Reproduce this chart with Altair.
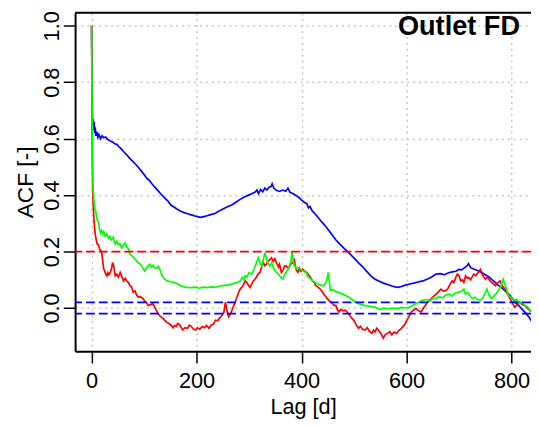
import altair as alt
import pandas as pd

# ---- data (lag in days, ACF) ----
blue_lag = [0, 1, 2, 3, 4, 5, 6, 7, 8, 10, 12, 14, 17, 20, 23, 27, 30, 33, 36, 40, 44, 48, 52, 57, 62, 67, 72, 77, 82, 89, 95, 100, 105, 110, 115, 120, 126, 132, 138, 145, 151, 157, 163, 170, 176, 183, 190, 197, 203, 208, 214, 220, 227, 236, 244, 252, 260, 267, 275, 283, 291, 299, 305, 311, 315, 318, 322, 326, 330, 334, 338, 342, 344, 347, 352, 358, 364, 370, 374, 378, 384, 390, 396, 400, 405, 410, 413, 416, 420, 425, 430, 436, 441, 446, 452, 458, 465, 472, 480, 487, 494, 501, 508, 516, 524, 532, 540, 548, 556, 564, 572, 578, 584, 590, 596, 606, 614, 622, 631, 640, 648, 656, 664, 672, 680, 687, 694, 700, 705, 710, 715, 718, 722, 728, 735, 743, 750, 757, 763, 769, 775, 781, 787, 791, 797, 803, 808, 813, 818, 823, 828, 833, 839]
blue_acf = [1.0, 0.76, 0.64, 0.67, 0.63, 0.66, 0.62, 0.64, 0.61, 0.625, 0.605, 0.615, 0.6, 0.61, 0.603, 0.606, 0.598, 0.595, 0.591, 0.588, 0.582, 0.58, 0.572, 0.563, 0.552, 0.543, 0.532, 0.522, 0.513, 0.499, 0.485, 0.473, 0.46, 0.452, 0.44, 0.429, 0.417, 0.404, 0.392, 0.38, 0.365, 0.358, 0.35, 0.343, 0.338, 0.334, 0.33, 0.326, 0.323, 0.321, 0.324, 0.327, 0.331, 0.336, 0.345, 0.353, 0.36, 0.365, 0.375, 0.385, 0.393, 0.4, 0.405, 0.41, 0.418, 0.405, 0.42, 0.412, 0.425, 0.418, 0.428, 0.43, 0.44, 0.425, 0.417, 0.413, 0.418, 0.414, 0.425, 0.41, 0.405, 0.398, 0.39, 0.382, 0.375, 0.37, 0.355, 0.36, 0.345, 0.335, 0.324, 0.31, 0.3, 0.289, 0.275, 0.26, 0.242, 0.228, 0.213, 0.201, 0.188, 0.175, 0.161, 0.147, 0.13, 0.114, 0.102, 0.095, 0.088, 0.083, 0.078, 0.075, 0.073, 0.076, 0.08, 0.085, 0.088, 0.092, 0.096, 0.103, 0.11, 0.12, 0.122, 0.118, 0.125, 0.128, 0.13, 0.137, 0.135, 0.142, 0.149, 0.157, 0.143, 0.138, 0.133, 0.126, 0.118, 0.11, 0.1, 0.091, 0.08, 0.072, 0.062, 0.056, 0.045, 0.03, 0.018, 0.009, 0.0, -0.01, -0.02, -0.032, -0.049]

green_lag = [0, 1, 2, 3, 4, 5, 6, 7.5, 9, 11, 13, 15, 17, 19, 21, 23, 26, 29, 32, 35, 38, 41, 45, 48, 51, 54, 57, 60, 62, 64, 67, 70, 73, 77, 81, 85, 89, 93, 97, 101, 104, 108, 111, 114, 117, 120, 124, 127, 130, 133, 136, 139, 145, 152, 158, 164, 170, 176, 183, 190, 197, 205, 212, 220, 228, 236, 244, 252, 260, 267, 273, 279, 283, 287, 290, 292.5, 296, 300, 305, 310, 314, 317.6, 321, 324, 327, 330, 333, 336, 339.5, 343, 347, 352, 356, 360, 364.6, 368, 372, 377, 380, 382, 384.5, 386.5, 390, 395, 399, 404, 408.5, 412, 416, 421, 426, 430, 435, 440, 445, 448, 451, 453, 455, 460, 465, 471, 477, 483, 490, 496, 502, 508.6, 515, 522, 530, 540, 549, 557, 565, 573, 581, 590, 598, 606, 612, 618, 625, 631, 638, 645, 650, 656, 662, 668, 674, 681, 686, 690, 695, 700, 705, 709, 712, 716, 720, 725, 730, 735, 740.6, 745, 749, 753, 757, 762, 766, 770, 775, 779, 782, 784, 787, 790, 794, 798, 802, 806, 810, 815, 820, 825, 830, 834, 839]
green_acf = [1.0, 0.72, 0.5, 0.42, 0.394, 0.37, 0.35, 0.347, 0.33, 0.31, 0.306, 0.28, 0.266, 0.275, 0.265, 0.271, 0.254, 0.262, 0.248, 0.254, 0.242, 0.25, 0.226, 0.236, 0.225, 0.228, 0.213, 0.222, 0.225, 0.23, 0.215, 0.21, 0.19, 0.185, 0.178, 0.168, 0.161, 0.155, 0.145, 0.131, 0.14, 0.15, 0.155, 0.145, 0.152, 0.143, 0.14, 0.148, 0.137, 0.12, 0.11, 0.102, 0.095, 0.092, 0.091, 0.085, 0.078, 0.075, 0.073, 0.072, 0.074, 0.07, 0.074, 0.072, 0.075, 0.073, 0.078, 0.08, 0.082, 0.085, 0.088, 0.092, 0.096, 0.108, 0.1, 0.114, 0.11, 0.125, 0.12, 0.14, 0.16, 0.178, 0.16, 0.149, 0.17, 0.196, 0.175, 0.16, 0.149, 0.16, 0.14, 0.126, 0.12, 0.11, 0.102, 0.12, 0.13, 0.149, 0.17, 0.201, 0.165, 0.149, 0.14, 0.142, 0.137, 0.13, 0.126, 0.11, 0.105, 0.096, 0.09, 0.085, 0.082, 0.079, 0.085, 0.1, 0.126, 0.09, 0.062, 0.065, 0.058, 0.055, 0.05, 0.045, 0.038, 0.03, 0.022, 0.015, 0.012, 0.008, 0.006, 0.003, -0.005, 0.0, -0.003, 0.0, -0.002, 0.002, 0.0, 0.003, 0.01, 0.015, 0.022, 0.027, 0.03, 0.025, 0.035, 0.033, 0.04, 0.036, 0.045, 0.05, 0.042, 0.048, 0.055, 0.056, 0.06, 0.067, 0.05, 0.055, 0.045, 0.033, 0.038, 0.03, 0.027, 0.035, 0.05, 0.067, 0.045, 0.033, 0.042, 0.05, 0.062, 0.075, 0.09, 0.102, 0.085, 0.07, 0.044, 0.04, 0.032, 0.027, 0.03, 0.015, 0.02, 0.009, 0.005, -0.005, -0.014]

red_lag = [0, 1, 2, 3, 4, 5, 7, 9, 11, 13, 15, 17, 19, 21, 23, 25, 27, 29, 31, 33, 35.7, 38, 40, 42, 45, 48, 51, 54.5, 57, 60.7, 64, 67, 70, 73, 76, 79.5, 83, 86, 89, 93, 98, 101, 104, 107.7, 112, 117, 121, 126.5, 131, 135, 139, 143, 147, 151.5, 155, 158, 161, 164, 168, 173.5, 178, 183, 186, 190, 194, 198.5, 202, 206, 211, 215, 219, 223.7, 228, 232, 236, 240, 244, 248.7, 252, 255, 258, 261, 265, 269, 273.7, 277, 280, 283, 287, 290, 292.5, 296, 299, 302, 305, 308, 311, 314, 317, 320.7, 323, 327, 330, 333, 336, 339, 342.7, 346, 349, 352, 356, 358, 361.5, 365, 368, 371, 375, 379, 383.5, 386, 388, 390, 393, 396, 399, 402, 406, 410, 414.7, 418, 421, 424, 427, 431, 435, 440, 444, 449, 453, 457, 461.7, 465, 468, 471, 475, 479, 483.6, 487, 491, 496, 500, 504, 508.6, 512, 516, 521, 525, 529, 534, 537, 540, 543, 547, 551, 555.6, 559, 563, 568, 572, 576, 581, 585, 589, 593, 597, 600, 602.6, 606, 609, 613, 618, 623, 628, 632, 636, 640, 645, 649, 653, 657, 661, 665.4, 670, 675, 679, 683, 687, 690, 693, 696.6, 700, 703, 706, 709, 712.4, 716, 718.6, 722, 725, 728, 732, 736, 740.6, 744, 747, 750, 754, 759, 763, 766, 769, 773, 778, 782, 787.6, 792, 797, 801, 806, 810, 815.8, 820, 825, 830, 835, 839]
red_acf = [1.0, 0.6, 0.42, 0.37, 0.33, 0.3, 0.26, 0.24, 0.225, 0.225, 0.21, 0.205, 0.2, 0.17, 0.14, 0.13, 0.12, 0.114, 0.125, 0.118, 0.126, 0.14, 0.161, 0.15, 0.114, 0.12, 0.11, 0.126, 0.115, 0.096, 0.105, 0.095, 0.091, 0.08, 0.075, 0.056, 0.06, 0.045, 0.038, 0.04, 0.033, 0.025, 0.02, 0.009, 0.012, 0.015, 0.0, -0.02, -0.03, -0.035, -0.043, -0.05, -0.055, -0.061, -0.07, -0.062, -0.065, -0.055, -0.06, -0.078, -0.07, -0.072, -0.061, -0.065, -0.075, -0.078, -0.07, -0.075, -0.066, -0.07, -0.062, -0.072, -0.06, -0.058, -0.043, -0.045, -0.035, -0.026, -0.015, 0.021, -0.01, -0.031, -0.02, 0.0, 0.021, 0.04, 0.055, 0.067, 0.075, 0.085, 0.096, 0.09, 0.08, 0.073, 0.085, 0.095, 0.102, 0.11, 0.12, 0.126, 0.14, 0.161, 0.15, 0.155, 0.165, 0.17, 0.178, 0.165, 0.175, 0.161, 0.145, 0.155, 0.126, 0.135, 0.15, 0.149, 0.14, 0.155, 0.161, 0.175, 0.15, 0.135, 0.126, 0.14, 0.13, 0.137, 0.13, 0.125, 0.114, 0.105, 0.095, 0.09, 0.079, 0.075, 0.068, 0.056, 0.045, 0.033, 0.025, 0.02, 0.009, 0.01, -0.005, -0.014, -0.005, -0.01, -0.008, -0.015, -0.025, -0.037, -0.045, -0.06, -0.072, -0.065, -0.075, -0.078, -0.07, -0.082, -0.09, -0.078, -0.085, -0.072, -0.08, -0.09, -0.107, -0.095, -0.09, -0.084, -0.095, -0.085, -0.09, -0.08, -0.075, -0.066, -0.058, -0.045, -0.037, -0.025, -0.014, -0.008, -0.002, -0.01, -0.014, 0.0, 0.01, 0.021, 0.03, 0.038, 0.044, 0.05, 0.058, 0.067, 0.06, 0.062, 0.07, 0.085, 0.096, 0.09, 0.105, 0.12, 0.114, 0.096, 0.1, 0.091, 0.114, 0.105, 0.108, 0.1, 0.11, 0.12, 0.115, 0.125, 0.137, 0.12, 0.11, 0.102, 0.11, 0.096, 0.09, 0.085, 0.079, 0.088, 0.096, 0.08, 0.067, 0.05, 0.033, 0.02, 0.003, 0.01, 0.021, 0.012, 0.009, 0.0, -0.01, -0.014]

ref_values = [0.2, 0.02, -0.02]
ref_colors = ["#FF0000", "#0000FF", "#0000FF"]
x_ticks = [0, 200, 400, 600, 800]
y_ticks = [0.0, 0.2, 0.4, 0.6, 0.8, 1.0]
title_text = "Outlet FD"

W, H = 462, 343
FONT = "Liberation Sans"

xscale = alt.Scale(domain=[-31.4, 837], nice=False, zero=False)
yscale = alt.Scale(domain=[-0.153, 1.0465], nice=False, zero=False)

GRID = "#C8C8C8"

xaxis = alt.Axis(values=x_ticks, title="Lag [d]", format="d", grid=True,
                 gridColor=GRID, gridDash=[2, 4], gridWidth=1.5,
                 domainColor="black", domainWidth=2, tickColor="black",
                 tickWidth=1.5, tickSize=12, labelFontSize=22, labelFont=FONT,
                 labelColor="black", labelPadding=8, labelBaseline="top",
                 labelFlush=False, labelOverlap=False,
                 titleFont=FONT, titleFontSize=22, titleFontWeight="normal",
                 titleColor="black", titleX=W / 2, titleY=63.5,
                 titleBaseline="alphabetic", titleAlign="center")
yaxis = alt.Axis(values=y_ticks, title="ACF [-]", format=".1f", grid=True,
                 gridColor=GRID, gridDash=[2, 4], gridWidth=1.5,
                 domainColor="black", domainWidth=2, tickColor="black",
                 tickWidth=1.5, tickSize=12, labelFontSize=22, labelFont=FONT,
                 labelColor="black", labelAngle=270, labelAlign="center",
                 labelBaseline="alphabetic", labelPadding=5,
                 labelFlush=False, labelOverlap=False,
                 titleFont=FONT, titleFontSize=23, titleFontWeight="normal",
                 titleColor="black", titleAngle=270, titleX=-43, titleY=H / 2,
                 titleBaseline="alphabetic", titleAlign="center")

def series_chart(lags, vals, color):
    df = pd.DataFrame({"lag": lags, "acf": vals})
    return alt.Chart(df).mark_line(color=color, strokeWidth=1.7, clip=True).encode(
        x=alt.X("lag:Q", scale=xscale, axis=xaxis),
        y=alt.Y("acf:Q", scale=yscale, axis=yaxis))

blue = series_chart(blue_lag, blue_acf, "#0000FF")
red = series_chart(red_lag, red_acf, "#FF0000")
green = series_chart(green_lag, green_acf, "#00FF00")

refs = alt.Chart(pd.DataFrame({"acf": ref_values, "c": ref_colors})).mark_rule(
    strokeDash=[9, 4], strokeWidth=1.8).encode(
    y=alt.Y("acf:Q", scale=yscale, axis=yaxis),
    color=alt.Color("c:N", scale=None, legend=None))

top_border = alt.Chart(pd.DataFrame({"a": [0]})).mark_rule(
    color="black", strokeWidth=2).encode(
    y=alt.value(0), x=alt.value(0), x2=alt.value(W))

title = alt.Chart(pd.DataFrame({"t": [title_text]})).mark_text(
    font=FONT, fontSize=27.5, fontWeight="bold", align="center",
    baseline="alphabetic", color="black").encode(
    text="t:N", x=alt.value(389), y=alt.value(22.5))

chart = alt.layer(blue, red, green, refs, top_border, title).properties(
    width=W, height=H,
    autosize=alt.AutoSizeParams(type="none"),
    padding={"left": 68, "top": 2, "right": 0, "bottom": 68},
    background="white",
).configure_view(stroke=None)

chart.save("out.html", embed_options={"renderer": "svg", "actions": False})
